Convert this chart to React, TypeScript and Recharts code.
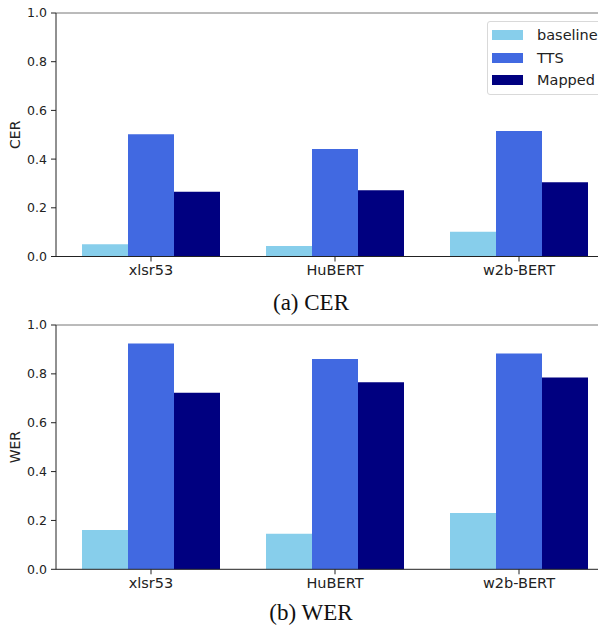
import { Bar, BarChart, Legend, ReferenceLine, XAxis, YAxis } from "recharts";

const models = ["xlsr53", "HuBERT", "w2b-BERT"];
const seriesNames = ["baseline", "TTS", "Mapped"];
const seriesColors = ["#87ceeb", "#4169e1", "#000080"];

const cerBaseline = [0.05, 0.043, 0.102];
const cerTts = [0.502, 0.441, 0.515];
const cerMapped = [0.266, 0.272, 0.305];

const werBaseline = [0.161, 0.146, 0.23];
const werTts = [0.924, 0.861, 0.883];
const werMapped = [0.723, 0.766, 0.785];

const yTicks = [0, 0.2, 0.4, 0.6, 0.8, 1.0];

const font = "DejaVu Sans, sans-serif";

function buildRows(values: number[][]) {
  return models.map((model, i) => {
    const row: Record<string, string | number> = { model };
    seriesNames.forEach((name, s) => {
      row[name] = values[s][i];
    });
    return row;
  });
}

// legend keeps the series order (recharts sorts the payload by name otherwise)
const renderLegend = () => (
  <div
    style={{
      border: "1px solid #d9d9d9",
      borderRadius: 3,
      background: "rgba(255,255,255,0.8)",
      padding: "2px 0",
      width: 117,
      boxSizing: "border-box",
    }}
  >
    {seriesNames.map((name, s) => (
      <div key={name} style={{ display: "flex", alignItems: "center", height: 22.5 }}>
        <span
          style={{ display: "inline-block", width: 31, height: 10, background: seriesColors[s], marginLeft: 4, marginRight: 14 }}
        />
        <span style={{ fontSize: 14.5, fontFamily: font, color: "#222" }}>{name}</span>
      </div>
    ))}
  </div>
);

interface PanelProps {
  values: number[][];
  yLabel: string;
  top: number;
  marginTop: number;
  marginBottom: number;
  showLegend?: boolean;
}

function Panel({ values, yLabel, top, marginTop, marginBottom, showLegend }: PanelProps) {
  const rows = buildRows(values);
  return (
    <div style={{ position: "absolute", left: 0, top }}>
      <BarChart
        width={640}
        height={300}
        data={rows}
        margin={{ top: marginTop, right: 26, bottom: marginBottom, left: 0 }}
        barCategoryGap={23}
        barGap={0}
      >
        <XAxis
          dataKey="model"
          padding={{ left: 3, right: 3 }}
          height={30}
          tickSize={5}
          tickMargin={3}
          stroke="#222"
          tick={{ fontSize: 14.5, fontFamily: font, fill: "#222" }}
        />
        <YAxis
          width={56}
          domain={[0, 1]}
          ticks={yTicks}
          tickFormatter={(v: number) => v.toFixed(1)}
          tickSize={5}
          tickMargin={4}
          stroke="#222"
          tick={{ fontSize: 12.5, fontFamily: font, fill: "#222" }}
          label={{
            value: yLabel,
            angle: -90,
            position: "insideLeft",
            offset: 15,
            style: { textAnchor: "middle", fontSize: 14, fontFamily: font, fill: "#222" },
          }}
        />
        <ReferenceLine y={1} stroke="#777" strokeWidth={1} />
        {seriesNames.map((name, s) => (
          <Bar key={name} dataKey={name} name={name} fill={seriesColors[s]} isAnimationActive={false} />
        ))}
        {showLegend && (
          <Legend
            layout="vertical"
            align="center"
            verticalAlign="middle"
            content={renderLegend}
            wrapperStyle={{ top: 21, left: 487, width: 117, height: "auto" }}
          />
        )}
      </BarChart>
    </div>
  );
}

const captionStyle = {
  position: "absolute" as const,
  left: 0,
  width: 622,
  textAlign: "center" as const,
  fontFamily: "Liberation Serif, Times New Roman, serif",
  fontSize: 23,
  lineHeight: 1,
  color: "#111",
};

export default function App() {
  return (
    <div
      style={{
        position: "relative",
        width: 606,
        height: 625,
        overflow: "hidden",
        margin: "-8px 0 0 -8px",
        background: "#fff",
      }}
    >
      <Panel
        values={[cerBaseline, cerTts, cerMapped]}
        yLabel="CER"
        top={0}
        marginTop={13}
        marginBottom={13.5}
        showLegend
      />
      <div style={{ ...captionStyle, top: 291 }}>(a) CER</div>
      <Panel
        values={[werBaseline, werTts, werMapped]}
        yLabel="WER"
        top={311}
        marginTop={14}
        marginBottom={11.7}
      />
      <div style={{ ...captionStyle, top: 601 }}>(b) WER</div>
    </div>
  );
}
